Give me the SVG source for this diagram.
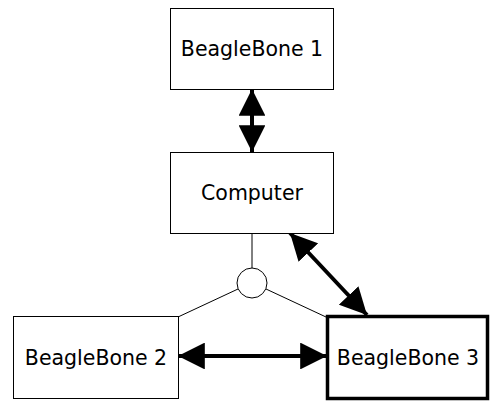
<svg xmlns="http://www.w3.org/2000/svg" width="491" height="401" viewBox="0 0 491 401">
<style>
.box{fill:#fff;stroke:#000;stroke-width:1}
.thick{fill:#fff;stroke:#000;stroke-width:3.5}
.lbl{font-family:"DejaVu Sans",sans-serif;font-size:20.5px;text-anchor:middle;fill:#000}
.thin{stroke:#000;stroke-width:1;fill:none}
.conn{stroke:#000;stroke-width:4;fill:none}
</style>
<defs>
<marker id="ah" viewBox="0 0 10 10" refX="10" refY="5" markerWidth="6.7" markerHeight="6.7" orient="auto-start-reverse" markerUnits="strokeWidth">
<path d="M0,0 L10,5 L0,10 Z" fill="#000"/>
</marker>
</defs>
<g id="connectors">
<line class="thin" x1="252" y1="233" x2="252" y2="268"/>
<line class="thin" x1="238" y1="289" x2="178" y2="317"/>
<line class="thin" x1="266" y1="289" x2="326" y2="317"/>
<line class="conn" x1="252" y1="89" x2="252" y2="152" marker-start="url(#ah)" marker-end="url(#ah)"/>
<line class="conn" x1="290" y1="233" x2="367" y2="315" marker-start="url(#ah)" marker-end="url(#ah)"/>
<line class="conn" x1="178" y1="356" x2="327" y2="356" marker-start="url(#ah)" marker-end="url(#ah)"/>
</g>
<g id="hub"><circle cx="252" cy="283" r="15" class="box"/></g>
<g id="bb1"><rect class="box" x="170.5" y="8.5" width="163" height="81"/><text class="lbl" x="252" y="56">BeagleBone 1</text></g>
<g id="computer"><rect class="box" x="170.5" y="152.5" width="163" height="81"/><text class="lbl" x="252" y="200">Computer</text></g>
<g id="bb2"><rect class="box" x="13.5" y="316.5" width="165" height="82"/><text class="lbl" x="96" y="365">BeagleBone 2</text></g>
<g id="bb3"><rect class="thick" x="327.5" y="316.5" width="160" height="82"/><text class="lbl" x="408" y="365">BeagleBone 3</text></g>
</svg>
